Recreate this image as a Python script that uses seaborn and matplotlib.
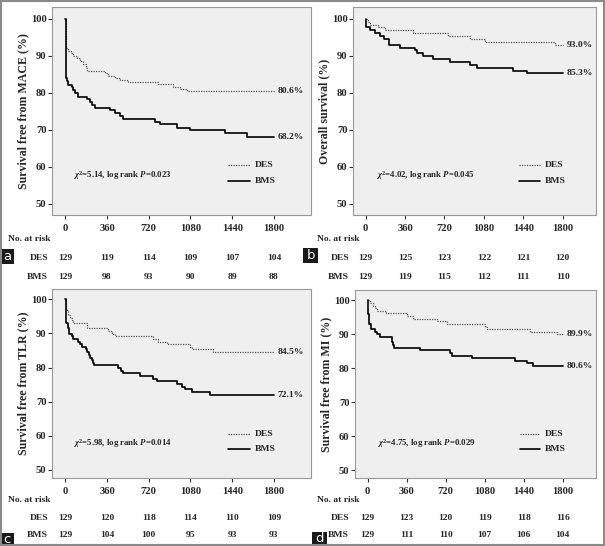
import matplotlib
matplotlib.use("Agg")
import matplotlib.pyplot as plt
import seaborn as sns
import pandas as pd
from matplotlib.patches import Rectangle

sns.set_style("ticks")
plt.rcParams['font.family'] = ['Liberation Serif', 'DejaVu Serif']
plt.rcParams['font.weight'] = 'bold'
plt.rcParams['mathtext.fontset'] = 'custom'
plt.rcParams['mathtext.rm'] = 'Liberation Serif:bold'
plt.rcParams['mathtext.it'] = 'Liberation Serif:italic:bold'
plt.rcParams['mathtext.bf'] = 'Liberation Serif:bold'

# ---------------- data ----------------
x_ticks = [0, 360, 720, 1080, 1440, 1800]
y_ticks = [50, 60, 70, 80, 90, 100]

# Panel a: MACE
a_des_t = [0, 2, 5, 10, 25, 45, 69, 98, 126, 155, 175, 190, 342, 371, 428, 471, 543, 802, 932, 990, 1050, 1800]
a_des_v = [100, 95, 93.4, 92.1, 91.4, 90.7, 90.0, 89.3, 88.6, 87.9, 86.8, 86.0, 85.3, 84.5, 84.0, 83.6, 83.0, 82.3, 81.6, 81.0, 80.6, 80.6]
a_bms_t = [0, 3, 6, 12, 20, 60, 70, 83, 112, 190, 213, 230, 256, 385, 428, 470, 500, 773, 817, 960, 1075, 1377, 1564, 1800]
a_bms_v = [100, 88, 84, 83.3, 82.2, 81.5, 80.8, 80.0, 79.0, 78.3, 77.5, 76.7, 76.0, 75.3, 74.5, 73.8, 73.0, 72.2, 71.5, 70.6, 70.0, 69.1, 68.2, 68.2]

# Panel b: overall survival
b_des_t = [0, 24, 40, 116, 177, 435, 755, 953, 1090, 1730, 1800]
b_des_v = [100, 99.2, 98.4, 97.7, 97.0, 96.2, 95.4, 94.6, 93.8, 93.0, 93.0]
b_bms_t = [0, 5, 40, 85, 131, 170, 216, 314, 450, 466, 527, 618, 770, 953, 1014, 1349, 1471, 1800]
b_bms_v = [100, 97.7, 96.9, 96.1, 95.3, 94.6, 93.0, 92.2, 91.5, 90.7, 89.9, 89.1, 88.4, 87.6, 86.8, 86.0, 85.3, 85.3]

# Panel c: TLR
c_des_t = [0, 5, 20, 27, 40, 55, 69, 184, 371, 400, 428, 759, 802, 874, 1075, 1090, 1277, 1800]
c_des_v = [100, 96.9, 96.1, 95.3, 94.6, 93.8, 93.0, 91.5, 90.7, 89.9, 89.1, 88.4, 87.6, 86.8, 86.0, 85.3, 84.5, 84.5]
c_bms_t = [0, 5, 20, 32, 55, 69, 112, 126, 141, 178, 190, 200, 213, 227, 236, 247, 457, 477, 495, 644, 759, 788, 960, 1003, 1032, 1090, 1248, 1800]
c_bms_v = [100, 93.0, 91.5, 89.9, 89.1, 88.4, 87.6, 86.8, 86.0, 85.3, 84.5, 83.7, 82.9, 82.2, 81.4, 80.6, 79.8, 79.1, 78.3, 77.5, 76.7, 76.0, 75.2, 74.4, 73.6, 72.9, 72.1, 72.1]

# Panel d: MI
d_des_t = [0, 22, 46, 68, 89, 169, 360, 421, 643, 729, 1083, 1098, 1498, 1745, 1800]
d_des_v = [100, 99.2, 98.4, 97.6, 96.9, 96.1, 95.3, 94.6, 93.8, 93.0, 92.2, 91.5, 90.7, 89.9, 89.9]
d_bms_t = [0, 2, 8, 28, 68, 89, 114, 222, 231, 243, 483, 760, 775, 960, 1360, 1468, 1529, 1800]
d_bms_v = [100, 96.0, 93.0, 91.5, 90.7, 89.9, 89.1, 87.6, 86.8, 86.0, 85.3, 84.5, 83.7, 82.9, 82.2, 81.4, 80.6, 80.6]

a_risk_des = [129, 119, 114, 109, 107, 104]
a_risk_bms = [129, 98, 93, 90, 89, 88]
b_risk_des = [129, 125, 123, 122, 121, 120]
b_risk_bms = [129, 119, 115, 112, 111, 110]
c_risk_des = [129, 120, 118, 114, 110, 109]
c_risk_bms = [129, 104, 100, 95, 93, 93]
d_risk_des = [129, 123, 120, 119, 118, 116]
d_risk_bms = [129, 111, 110, 107, 106, 104]

ylabels = ["Survival free from MACE (%)", "Overall survival (%)",
           "Survival free from TLR (%)", "Survival free from MI (%)"]
stats = [r"$\chi^2$=5.14, log rank $P$=0.023", r"$\chi^2$=4.02, log rank $P$=0.045",
         r"$\chi^2$=5.98, log rank $P$=0.014", r"$\chi^2$=4.75, log rank $P$=0.029"]
panel_letters = ["a", "b", "c", "d"]

# ---------------- layout ----------------
W, H = 605, 546
fig = plt.figure(figsize=(W / 100, H / 100), dpi=100)
fig.patch.set_facecolor("white")

def fx(px):
    return px / W

def fy(py):
    return 1 - py / H

panels = [
    dict(box=(52, 311, 7, 215), xlim=(-115, 2120), ylim=(47.0, 103.2), rows=(239, 258, 277),
         lab_r=48, nar_x=8, letter=(0, 249, 14, 15),
         des=(a_des_t, a_des_v), bms=(a_bms_t, a_bms_v), risk=(a_risk_des, a_risk_bms)),
    dict(box=(353, 596, 7, 215), xlim=(-116, 2105), ylim=(47.0, 103.2), rows=(239, 258, 277),
         lab_r=349, nar_x=317, letter=(303, 248, 15, 15),
         des=(b_des_t, b_des_v), bms=(b_bms_t, b_bms_v), risk=(b_risk_des, b_risk_bms)),
    dict(box=(52, 311, 289, 478), xlim=(-115, 2120), ylim=(47.65, 103.0), rows=(500, 518, 535),
         lab_r=48, nar_x=8, letter=(0, 533, 14, 13),
         des=(c_des_t, c_des_v), bms=(c_bms_t, c_bms_v), risk=(c_risk_des, c_risk_bms)),
    dict(box=(355, 596, 290, 478), xlim=(-117, 2108), ylim=(47.65, 103.0), rows=(500, 518, 535),
         lab_r=349, nar_x=317, letter=(312, 532, 15, 14),
         des=(d_des_t, d_des_v), bms=(d_bms_t, d_bms_v), risk=(d_risk_des, d_risk_bms)),
]

FS = 6.8
TFS = 7.6
des_style = dict(color="#555555", linewidth=0.9, linestyle=(0, (1, 1)))
bms_style = dict(color="black", linewidth=1.2, linestyle="-")

for i, p in enumerate(panels):
    l, r, t, b = p["box"]
    ax = fig.add_axes([fx(l), fy(b), (r - l) / W, (b - t) / H])
    ax.set_facecolor("#efefef")
    df_des = pd.DataFrame({"t": p["des"][0], "v": p["des"][1]})
    df_bms = pd.DataFrame({"t": p["bms"][0], "v": p["bms"][1]})
    sns.lineplot(data=df_des, x="t", y="v", ax=ax, drawstyle="steps-post", estimator=None, **des_style)
    sns.lineplot(data=df_bms, x="t", y="v", ax=ax, drawstyle="steps-post", estimator=None, **bms_style)
    ax.set_xlim(*p["xlim"])
    ax.set_ylim(*p["ylim"])
    ax.set_xticks(x_ticks)
    ax.set_yticks(y_ticks)
    ax.set_xlabel("")
    ax.set_ylabel(ylabels[i], fontsize=8.6, fontweight="bold", labelpad=1)
    ax.tick_params(axis="both", labelsize=TFS, length=3, width=0.8, color="#333333", pad=1)
    ax.tick_params(axis="x", pad=3.5)
    for lab in ax.get_xticklabels() + ax.get_yticklabels():
        lab.set_fontweight("bold")
    for s in ax.spines.values():
        s.set_visible(True)
        s.set_color("#999999")
        s.set_linewidth(0.8)

    # end labels
    ax.text(1835, p["des"][1][-1], f"{p['des'][1][-1]:.1f}%", fontsize=FS, va="center", ha="left", fontweight="bold")
    ax.text(1835, p["bms"][1][-1], f"{p['bms'][1][-1]:.1f}%", fontsize=FS, va="center", ha="left", fontweight="bold")

    # stats text
    ax.text(66 if i in (0, 2) else 90, 57.8, stats[i], fontsize=6.3, va="center", ha="left", fontweight="bold")

    # legend
    ax.plot([1405, 1595], [60.6, 60.6], **des_style)
    ax.plot([1405, 1595], [56.2, 56.2], **bms_style)
    ax.text(1635, 60.6, "DES", fontsize=FS, va="center", ha="left", fontweight="bold")
    ax.text(1635, 56.2, "BMS", fontsize=FS, va="center", ha="left", fontweight="bold")

    # risk table
    trans = matplotlib.transforms.blended_transform_factory(ax.transData, fig.transFigure)
    y0, y1, y2 = p["rows"]
    fig.text(fx(p["nar_x"]), fy(y0), "No. at risk", fontsize=FS, va="center", ha="left", fontweight="bold")
    fig.text(fx(p["lab_r"]), fy(y1), "DES", fontsize=FS, va="center", ha="right", fontweight="bold")
    fig.text(fx(p["lab_r"]), fy(y2), "BMS", fontsize=FS, va="center", ha="right", fontweight="bold")
    for xt, nd, nb in zip(x_ticks, p["risk"][0], p["risk"][1]):
        ax.text(xt, fy(y1), str(nd), transform=trans, fontsize=FS, va="center", ha="center", fontweight="bold")
        ax.text(xt, fy(y2), str(nb), transform=trans, fontsize=FS, va="center", ha="center", fontweight="bold")

    # panel letter box
    lx, ly, lw, lh = p["letter"]
    fig.patches.append(Rectangle((fx(lx), fy(ly + lh)), lw / W, lh / H, transform=fig.transFigure,
                                 facecolor="#1a1a1a", edgecolor="none", zorder=5))
    fig.text(fx(lx + lw / 2), fy(ly + lh / 2), panel_letters[i], fontsize=9.5, color="white",
             va="center", ha="center", family="DejaVu Sans", fontweight="normal", zorder=6)

# outer border
fig.patches.append(Rectangle((0.001, 0.001), 0.998, 0.998, transform=fig.transFigure,
                             facecolor="none", edgecolor="#8a8a8a", linewidth=1.5, zorder=10))

fig.savefig("out.png", dpi=100)
